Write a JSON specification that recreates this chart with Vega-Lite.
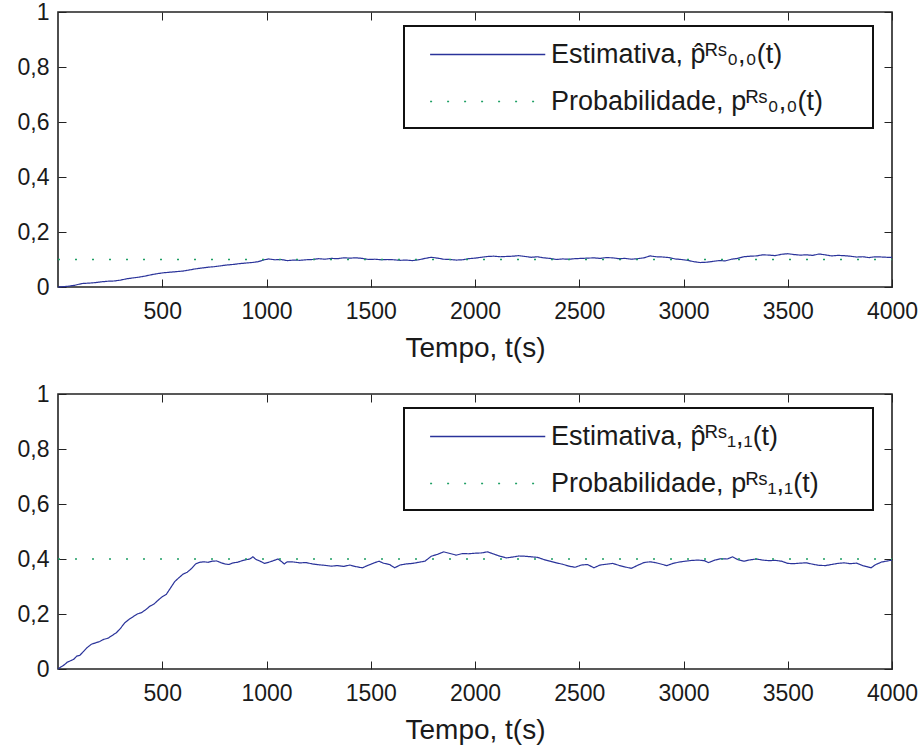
{
  "$schema": "https://vega.github.io/schema/vega-lite/v6.json",
  "background": "white",
  "padding": {"left": 16, "top": 0, "right": 5, "bottom": 5},
  "bounds": "flush",
  "spacing": 107,
  "datasets": {
    "est00": [
      {"t":0,"v":0},{"t":20,"v":0.001},{"t":40,"v":0.002},{"t":60,"v":0.004},{"t":80,"v":0.006},{"t":100,"v":0.010},{"t":120,"v":0.013},{"t":150,"v":0.014},{"t":180,"v":0.016},{"t":210,"v":0.019},{"t":240,"v":0.021},{"t":270,"v":0.022},{"t":300,"v":0.025},{"t":330,"v":0.030},{"t":360,"v":0.033},{"t":390,"v":0.036},{"t":420,"v":0.040},{"t":450,"v":0.045},{"t":480,"v":0.049},{"t":510,"v":0.052},{"t":540,"v":0.054},{"t":570,"v":0.056},{"t":600,"v":0.058},{"t":630,"v":0.062},{"t":660,"v":0.066},{"t":690,"v":0.069},{"t":720,"v":0.072},{"t":750,"v":0.074},{"t":780,"v":0.077},{"t":810,"v":0.080},{"t":840,"v":0.082},{"t":870,"v":0.085},{"t":900,"v":0.087},{"t":930,"v":0.089},{"t":960,"v":0.092},{"t":990,"v":0.099},{"t":1010,"v":0.102},{"t":1040,"v":0.099},{"t":1070,"v":0.100},{"t":1100,"v":0.096},{"t":1130,"v":0.098},{"t":1160,"v":0.097},{"t":1190,"v":0.099},{"t":1220,"v":0.100},{"t":1250,"v":0.103},{"t":1280,"v":0.101},{"t":1310,"v":0.104},{"t":1340,"v":0.103},{"t":1370,"v":0.106},{"t":1400,"v":0.105},{"t":1430,"v":0.106},{"t":1460,"v":0.104},{"t":1490,"v":0.100},{"t":1520,"v":0.101},{"t":1550,"v":0.099},{"t":1580,"v":0.100},{"t":1610,"v":0.099},{"t":1640,"v":0.097},{"t":1670,"v":0.098},{"t":1700,"v":0.096},{"t":1730,"v":0.099},{"t":1760,"v":0.104},{"t":1790,"v":0.108},{"t":1820,"v":0.105},{"t":1850,"v":0.101},{"t":1880,"v":0.100},{"t":1910,"v":0.098},{"t":1940,"v":0.099},{"t":1970,"v":0.103},{"t":2000,"v":0.105},{"t":2030,"v":0.108},{"t":2060,"v":0.111},{"t":2090,"v":0.112},{"t":2120,"v":0.110},{"t":2150,"v":0.111},{"t":2180,"v":0.112},{"t":2210,"v":0.114},{"t":2240,"v":0.111},{"t":2270,"v":0.108},{"t":2300,"v":0.110},{"t":2330,"v":0.106},{"t":2360,"v":0.104},{"t":2390,"v":0.100},{"t":2420,"v":0.102},{"t":2450,"v":0.101},{"t":2480,"v":0.103},{"t":2510,"v":0.104},{"t":2540,"v":0.105},{"t":2570,"v":0.106},{"t":2600,"v":0.104},{"t":2630,"v":0.107},{"t":2660,"v":0.106},{"t":2690,"v":0.103},{"t":2720,"v":0.104},{"t":2750,"v":0.101},{"t":2780,"v":0.103},{"t":2810,"v":0.106},{"t":2840,"v":0.113},{"t":2870,"v":0.110},{"t":2900,"v":0.109},{"t":2930,"v":0.107},{"t":2960,"v":0.102},{"t":2990,"v":0.100},{"t":3020,"v":0.097},{"t":3050,"v":0.092},{"t":3080,"v":0.089},{"t":3110,"v":0.090},{"t":3140,"v":0.093},{"t":3170,"v":0.096},{"t":3200,"v":0.095},{"t":3230,"v":0.101},{"t":3260,"v":0.104},{"t":3290,"v":0.110},{"t":3320,"v":0.112},{"t":3350,"v":0.113},{"t":3380,"v":0.117},{"t":3410,"v":0.116},{"t":3440,"v":0.114},{"t":3470,"v":0.119},{"t":3500,"v":0.121},{"t":3530,"v":0.118},{"t":3560,"v":0.116},{"t":3590,"v":0.117},{"t":3620,"v":0.115},{"t":3650,"v":0.120},{"t":3680,"v":0.117},{"t":3710,"v":0.113},{"t":3740,"v":0.115},{"t":3770,"v":0.114},{"t":3800,"v":0.112},{"t":3830,"v":0.109},{"t":3860,"v":0.110},{"t":3890,"v":0.107},{"t":3920,"v":0.110},{"t":3950,"v":0.109},{"t":3980,"v":0.108},{"t":4000,"v":0.108}
    ],
    "est11": [
      {"t":0,"v":0},{"t":15,"v":0.008},{"t":30,"v":0.015},{"t":45,"v":0.025},{"t":60,"v":0.030},{"t":75,"v":0.035},{"t":90,"v":0.047},{"t":105,"v":0.050},{"t":120,"v":0.062},{"t":140,"v":0.078},{"t":160,"v":0.090},{"t":180,"v":0.095},{"t":200,"v":0.100},{"t":220,"v":0.108},{"t":240,"v":0.112},{"t":260,"v":0.122},{"t":280,"v":0.132},{"t":300,"v":0.148},{"t":320,"v":0.168},{"t":340,"v":0.180},{"t":360,"v":0.190},{"t":380,"v":0.200},{"t":400,"v":0.205},{"t":420,"v":0.215},{"t":440,"v":0.228},{"t":460,"v":0.236},{"t":480,"v":0.250},{"t":500,"v":0.263},{"t":520,"v":0.272},{"t":540,"v":0.295},{"t":560,"v":0.318},{"t":580,"v":0.332},{"t":600,"v":0.345},{"t":620,"v":0.352},{"t":640,"v":0.365},{"t":660,"v":0.382},{"t":680,"v":0.388},{"t":700,"v":0.390},{"t":720,"v":0.388},{"t":740,"v":0.392},{"t":760,"v":0.393},{"t":780,"v":0.387},{"t":800,"v":0.382},{"t":820,"v":0.380},{"t":840,"v":0.386},{"t":860,"v":0.388},{"t":880,"v":0.393},{"t":900,"v":0.397},{"t":920,"v":0.400},{"t":935,"v":0.408},{"t":950,"v":0.398},{"t":970,"v":0.392},{"t":990,"v":0.384},{"t":1010,"v":0.388},{"t":1030,"v":0.393},{"t":1055,"v":0.400},{"t":1070,"v":0.392},{"t":1085,"v":0.382},{"t":1100,"v":0.390},{"t":1130,"v":0.389},{"t":1160,"v":0.386},{"t":1190,"v":0.387},{"t":1220,"v":0.382},{"t":1250,"v":0.379},{"t":1280,"v":0.377},{"t":1310,"v":0.374},{"t":1340,"v":0.376},{"t":1370,"v":0.373},{"t":1400,"v":0.378},{"t":1430,"v":0.372},{"t":1460,"v":0.368},{"t":1490,"v":0.378},{"t":1520,"v":0.387},{"t":1540,"v":0.392},{"t":1560,"v":0.385},{"t":1590,"v":0.380},{"t":1615,"v":0.368},{"t":1640,"v":0.378},{"t":1670,"v":0.382},{"t":1700,"v":0.384},{"t":1730,"v":0.388},{"t":1760,"v":0.392},{"t":1790,"v":0.410},{"t":1820,"v":0.417},{"t":1850,"v":0.426},{"t":1880,"v":0.420},{"t":1910,"v":0.414},{"t":1940,"v":0.420},{"t":1970,"v":0.419},{"t":2000,"v":0.421},{"t":2030,"v":0.422},{"t":2060,"v":0.426},{"t":2090,"v":0.418},{"t":2120,"v":0.410},{"t":2150,"v":0.404},{"t":2180,"v":0.407},{"t":2210,"v":0.411},{"t":2240,"v":0.410},{"t":2270,"v":0.408},{"t":2300,"v":0.406},{"t":2330,"v":0.398},{"t":2360,"v":0.392},{"t":2390,"v":0.386},{"t":2420,"v":0.381},{"t":2450,"v":0.374},{"t":2480,"v":0.370},{"t":2510,"v":0.378},{"t":2540,"v":0.380},{"t":2570,"v":0.368},{"t":2600,"v":0.378},{"t":2630,"v":0.381},{"t":2660,"v":0.384},{"t":2690,"v":0.377},{"t":2720,"v":0.371},{"t":2750,"v":0.366},{"t":2780,"v":0.377},{"t":2810,"v":0.387},{"t":2840,"v":0.390},{"t":2870,"v":0.386},{"t":2900,"v":0.380},{"t":2920,"v":0.376},{"t":2950,"v":0.384},{"t":2980,"v":0.389},{"t":3010,"v":0.392},{"t":3040,"v":0.395},{"t":3070,"v":0.396},{"t":3100,"v":0.394},{"t":3120,"v":0.387},{"t":3150,"v":0.396},{"t":3180,"v":0.401},{"t":3210,"v":0.400},{"t":3235,"v":0.408},{"t":3260,"v":0.398},{"t":3290,"v":0.392},{"t":3320,"v":0.397},{"t":3350,"v":0.400},{"t":3380,"v":0.396},{"t":3410,"v":0.394},{"t":3440,"v":0.395},{"t":3470,"v":0.392},{"t":3500,"v":0.384},{"t":3530,"v":0.383},{"t":3560,"v":0.385},{"t":3590,"v":0.386},{"t":3620,"v":0.381},{"t":3650,"v":0.377},{"t":3680,"v":0.376},{"t":3710,"v":0.380},{"t":3740,"v":0.384},{"t":3770,"v":0.386},{"t":3800,"v":0.383},{"t":3830,"v":0.385},{"t":3860,"v":0.376},{"t":3880,"v":0.372},{"t":3900,"v":0.368},{"t":3920,"v":0.379},{"t":3950,"v":0.389},{"t":3980,"v":0.393},{"t":4000,"v":0.396}
    ],
    "prob00": [{"t":0,"v":0.1},{"t":4000,"v":0.1}],
    "prob11": [{"t":0,"v":0.4},{"t":4000,"v":0.4}]
  },
  "config": {
    "font": "Liberation Sans",
    "view": {"stroke": "#222222", "strokeWidth": 1.6},
    "axis": {
      "domain": false,
      "grid": false,
      "ticks": true,
      "tickColor": "#222222",
      "tickSize": -8,
      "tickWidth": 1,
      "labelFont": "Liberation Sans",
      "labelFontSize": 23,
      "labelColor": "#1a1a1a",
      "labelFlush": false,
      "titleFont": "Liberation Sans",
      "titleFontSize": 28,
      "titleFontWeight": "normal",
      "titleColor": "#1a1a1a"
    },
    "legend": {
      "orient": "none",
      "legendX": 346,
      "legendY": 14,
      "direction": "vertical",
      "strokeColor": "#111111",
      "strokeWidth": 2,
      "fillColor": "white",
      "padding": 13,
      "symbolType": "M-1,0H7M28.6,0",
      "symbolSize": 829,
      "symbolOffset": 12,
      "symbolStrokeWidth": 1.5,
      "labelFont": "Liberation Sans",
      "labelFontSize": 27,
      "labelColor": "#1a1a1a",
      "labelOffset": 91,
      "rowPadding": 18,
      "labelLimit": 500,
      "title": null
    }
  },
  "resolve": {"scale": {"color": "independent", "strokeDash": "independent"}, "legend": {"color": "independent", "strokeDash": "independent"}},
  "vconcat": [
    {
      "width": 834,
      "height": 275,
      "layer": [
        {
          "data": {"name": "est00"},
          "transform": [{"calculate": "'Estimativa, p̂ᴿˢ₀,₀(t)'", "as": "s"}],
          "mark": {"type": "line", "strokeWidth": 1.2},
          "encoding": {
            "x": {"field": "t", "type": "quantitative", "scale": {"domain": [0, 4000], "nice": false},
                  "axis": {"orient": "bottom", "values": [500,1000,1500,2000,2500,3000,3500,4000], "format": "d", "labelPadding": 21, "title": "Tempo, t(s)", "titlePadding": 11}},
            "y": {"field": "v", "type": "quantitative", "scale": {"domain": [0, 1], "nice": false},
                  "axis": {"orient": "left", "values": [0,0.2,0.4,0.6,0.8,1], "labelPadding": 17, "title": null,
                           "labelExpr": "datum.value == 0 ? '0' : datum.value == 1 ? '1' : replace(format(datum.value, '.1f'), '.', ',')"}},
            "color": {"field": "s", "type": "nominal", "scale": {"domain": ["Estimativa, p̂ᴿˢ₀,₀(t)", "Probabilidade, pᴿˢ₀,₀(t)"], "range": ["#2a339a", "#1e9f64"]}},
            "strokeDash": {"field": "s", "type": "nominal", "scale": {"domain": ["Estimativa, p̂ᴿˢ₀,₀(t)", "Probabilidade, pᴿˢ₀,₀(t)"], "range": [[1, 0], [2, 15]]}}
          }
        },
        {
          "data": {"name": "prob00"},
          "transform": [{"calculate": "'Probabilidade, pᴿˢ₀,₀(t)'", "as": "s"}],
          "mark": {"type": "line", "strokeWidth": 1.5},
          "encoding": {
            "x": {"field": "t", "type": "quantitative", "axis": {"orient": "top", "values": [500,1000,1500,2000,2500,3000,3500,4000], "labels": false, "title": null}},
            "y": {"field": "v", "type": "quantitative", "axis": {"orient": "right", "values": [0,0.2,0.4,0.6,0.8,1], "labels": false, "title": null}},
            "color": {"field": "s", "type": "nominal"},
            "strokeDash": {"field": "s", "type": "nominal"}
          }
        }
      ],
      "resolve": {"axis": {"x": "independent", "y": "independent"}}
    },
    {
      "width": 834,
      "height": 275,
      "layer": [
        {
          "data": {"name": "est11"},
          "transform": [{"calculate": "'Estimativa, p̂ᴿˢ₁,₁(t)'", "as": "s"}],
          "mark": {"type": "line", "strokeWidth": 1.2},
          "encoding": {
            "x": {"field": "t", "type": "quantitative", "scale": {"domain": [0, 4000], "nice": false},
                  "axis": {"orient": "bottom", "values": [500,1000,1500,2000,2500,3000,3500,4000], "format": "d", "labelPadding": 21, "title": "Tempo, t(s)", "titlePadding": 11}},
            "y": {"field": "v", "type": "quantitative", "scale": {"domain": [0, 1], "nice": false},
                  "axis": {"orient": "left", "values": [0,0.2,0.4,0.6,0.8,1], "labelPadding": 17, "title": null,
                           "labelExpr": "datum.value == 0 ? '0' : datum.value == 1 ? '1' : replace(format(datum.value, '.1f'), '.', ',')"}},
            "color": {"field": "s", "type": "nominal", "scale": {"domain": ["Estimativa, p̂ᴿˢ₁,₁(t)", "Probabilidade, pᴿˢ₁,₁(t)"], "range": ["#2a339a", "#1e9f64"]}},
            "strokeDash": {"field": "s", "type": "nominal", "scale": {"domain": ["Estimativa, p̂ᴿˢ₁,₁(t)", "Probabilidade, pᴿˢ₁,₁(t)"], "range": [[1, 0], [2, 15]]}}
          }
        },
        {
          "data": {"name": "prob11"},
          "transform": [{"calculate": "'Probabilidade, pᴿˢ₁,₁(t)'", "as": "s"}],
          "mark": {"type": "line", "strokeWidth": 1.5},
          "encoding": {
            "x": {"field": "t", "type": "quantitative", "axis": {"orient": "top", "values": [500,1000,1500,2000,2500,3000,3500,4000], "labels": false, "title": null}},
            "y": {"field": "v", "type": "quantitative", "axis": {"orient": "right", "values": [0,0.2,0.4,0.6,0.8,1], "labels": false, "title": null}},
            "color": {"field": "s", "type": "nominal"},
            "strokeDash": {"field": "s", "type": "nominal"}
          }
        }
      ],
      "resolve": {"axis": {"x": "independent", "y": "independent"}}
    }
  ]
}
